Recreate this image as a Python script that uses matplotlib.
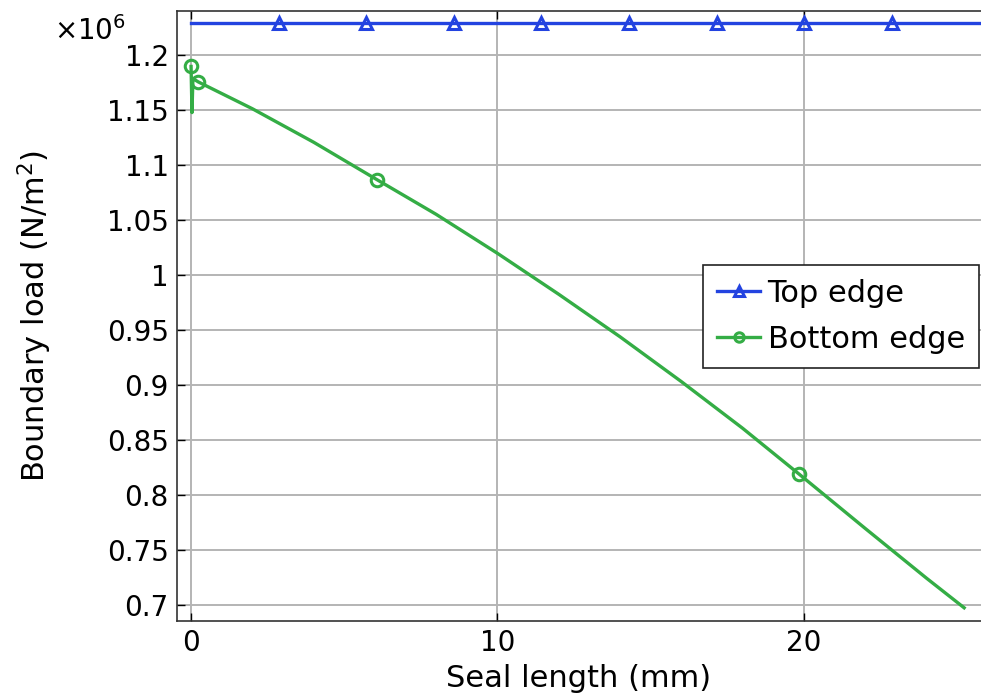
import numpy as np
import matplotlib
matplotlib.use('Agg')
import matplotlib.pyplot as plt
from matplotlib.ticker import FuncFormatter, MultipleLocator

# boundary load along the seal, in units of 1e6 N/m^2
top_x = [0.0, 2.86, 5.72, 8.57, 11.43, 14.29, 17.15, 20.0, 22.87, 25.7]
top_y = [1.23, 1.23, 1.23, 1.23, 1.23, 1.23, 1.23, 1.23, 1.23, 1.23]
top_marks = [1, 2, 3, 4, 5, 6, 7, 8]

bot_x = [0.0, 0.03, 0.06, 0.23, 2.0, 4.0, 6.06, 8.0, 10.0, 12.0, 14.0, 16.0,
         18.0, 19.85, 22.0, 24.0, 25.23]
bot_y = [1.190, 1.148, 1.179, 1.176, 1.1515, 1.1210, 1.0870, 1.0553, 1.0198, 0.9825,
         0.9438, 0.9030, 0.8605, 0.8186, 0.7693, 0.7240, 0.697]
bot_marks = [0, 3, 6, 13]

blue = '#2343e0'
green = '#34ad45'

fig = plt.figure(figsize=(9.81, 6.96), dpi=100)
ax = fig.add_axes([0.1804, 0.1078, 0.8196, 0.8764])

ax.plot(top_x, top_y, color=blue, lw=2.4, marker='^', markevery=top_marks,
        ms=9, mfc='none', mec=blue, mew=2.2, label='Top edge')
ax.plot(bot_x, bot_y, color=green, lw=2.4, marker='o', markevery=bot_marks,
        ms=9, mfc='none', mec=green, mew=2.2, label='Bottom edge')

ax.set_xlim(-0.46, 25.78)
ax.set_ylim(0.685, 1.2405)
ax.xaxis.set_major_locator(MultipleLocator(10))
ax.yaxis.set_major_locator(MultipleLocator(0.05))
ax.yaxis.set_major_formatter(FuncFormatter(lambda v, p: '%g' % round(v, 3)))
ax.grid(True, color='#b4b4b4', lw=1.4)
ax.set_axisbelow(True)
ax.tick_params(direction='in', length=6, width=1, top=True, right=False,
               labelsize=20, pad=6)
for s in ax.spines.values():
    s.set_color('#333333')
    s.set_linewidth(1.2)
ax.spines['right'].set_visible(False)

ax.set_xlabel('Seal length (mm)', fontsize=22, labelpad=5)
ax.set_ylabel('Boundary load (N/m$^2$)', fontsize=22, labelpad=38)
fig.text(0.055, 0.955, r'$\times10^{6}$', fontsize=20, va='center')

leg = ax.legend(loc='upper right', bbox_to_anchor=(0.997, 0.583), fontsize=22,
                frameon=True, fancybox=False, framealpha=1, edgecolor='#222222',
                handlelength=1.4, handletextpad=0.25, borderpad=0.45,
                labelspacing=0.55, borderaxespad=0, markerscale=0.75)
leg.get_frame().set_linewidth(1.2)

fig.savefig('out.png', dpi=100)
